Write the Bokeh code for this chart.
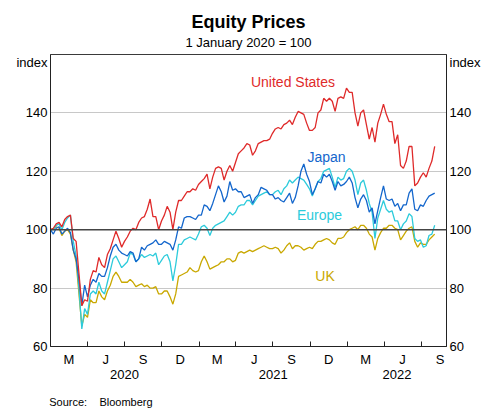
import pandas as pd
from bokeh.plotting import figure
from bokeh.models import (ColumnDataSource, Range1d, FixedTicker, LinearAxis,
                          DatetimeAxis, Span, Label, Title)
from bokeh.embed import file_html
from bokeh.resources import INLINE

# ---------------- data (weekly, index 1 Jan 2020 = 100) ----------------
dates = pd.date_range("2020-01-01", periods=136, freq="7D")

us = [100, 100.5, 102, 102.5, 101, 103.5, 104.5, 105, 97, 96,
      85, 74, 76, 75.5, 83, 86, 85.5, 90.5, 88, 87,
      91.5, 93.5, 96.5, 99.5, 97, 94, 96, 97.5, 99.5, 100.5,
      100, 102.5, 104, 104.5, 107, 110.5, 104.5, 104.5, 100, 103,
      105, 108, 106, 100, 106, 110, 110, 111.5, 113, 113,
      114, 113.5, 115.5, 116.5, 117.5, 119, 114, 118, 121, 121.5,
      121, 117, 120, 122, 120, 123, 126, 127, 128, 129.5,
      129, 125.5, 127, 129.5, 130, 130.5, 130.5, 131, 133, 134.5,
      135, 134.5, 136, 136.5, 137.5, 136, 138.5, 140.5, 140, 139.5,
      136.5, 134, 134, 135, 140, 141, 145, 144, 145, 144,
      140.5, 145, 145.5, 145, 148.5, 147, 147, 140, 135.5, 140,
      141, 136, 131, 135, 130, 136.5, 139.5, 143, 139.5, 137,
      137, 129.5, 132.5, 122, 121, 123.5, 128.5, 128.5, 115, 116,
      118, 119.5, 118, 121, 123.5, 128.5]

japan = [100, 98.5, 100.5, 101, 98.5, 99.5, 100.5, 99, 93, 90,
         83, 74, 81, 77, 81, 83, 82, 85, 84, 84,
         87, 91, 94, 95, 93, 92, 91.5, 91, 92.5, 92,
         89, 90, 94, 93, 94.5, 95, 95.5, 96.5, 95, 95,
         96, 95.5, 95, 93, 96.5, 101, 100.5, 104, 104.5, 104.5,
         104, 103.5, 105, 105, 108.5, 108, 106.5, 109, 112, 115,
         113, 109.5, 111.5, 116.5, 113.5, 114, 113, 113, 111, 111.5,
         112, 109, 111, 112, 114.5, 114, 113.5, 112, 112, 110.5,
         111, 110, 109.5, 111, 112.5, 109, 111, 115, 120, 122.5,
         119, 116.5, 112, 114, 116.5, 116, 119, 118, 119, 116.5,
         113.5, 116.5, 115, 115.5, 116.5, 118, 116, 111, 107.5, 110.5,
         112, 110, 106, 107.5, 102, 106.5, 111, 115, 110.5, 110,
         110.5, 108, 109, 106.5, 108.5, 108.5, 112.5, 114, 107, 106.5,
         108.5, 108, 110, 111.5, 112, 112.5]

europe = [100, 100, 101.5, 102, 100, 102.5, 104, 105, 96, 91,
          80, 66, 73, 71, 78, 79, 78, 82, 79, 78,
          82, 86, 90, 91, 89, 87, 88, 89, 92, 91.5,
          89, 90, 91.5, 90.5, 91, 91.5, 91, 92, 88, 89.5,
          91, 91.5, 89, 82.5, 88, 95, 95, 96.5, 97, 97.5,
          97, 96.5, 98.5, 101, 101.5, 100.5, 98, 100.5, 101.5, 102,
          102.5, 103, 104.5, 106, 105, 106, 108, 108.5, 108.5, 110,
          110, 108.5, 110, 111.5, 112, 112.5, 113, 112, 112, 113,
          113.5, 112, 114, 115, 117, 116, 117, 118, 117.5, 117,
          115.5, 114, 111.5, 114, 116.5, 117.5, 120, 120.5, 121, 118,
          114.5, 118, 117, 117.5, 120, 121, 120, 117, 112, 116,
          117, 113.5, 109, 106, 97, 104, 107, 110, 107, 106,
          106.5, 103, 103, 100, 102, 103, 105.5, 104.5, 97, 96,
          96.5, 94, 94.5, 98, 98.5, 101.5]

uk = [100, 100.3, 101, 100.5, 98, 99.5, 100, 98.5, 93, 89,
      78, 67, 71, 70, 76, 75, 75, 79, 77, 76,
      79, 81, 84, 85.5, 84, 82, 82, 82, 83, 82,
      80.5, 81, 81.5, 80.5, 81, 80, 80, 80.5, 78, 78,
      79, 79, 77, 74.5, 78, 84, 84.5, 85, 85.5, 87,
      86, 85.5, 86, 89, 91, 89, 86.5, 87, 87.5, 88,
      89, 89, 90, 90, 89, 89.5, 92, 92.5, 92, 92.5,
      93, 92.5, 93, 93.5, 94, 94.5, 94, 93.5, 93.5, 94,
      93.5, 92, 93, 94.5, 95.5, 93.5, 94.5, 94.5, 94, 93,
      93.5, 94, 93.5, 95, 96, 96, 96.5, 97, 96.5, 95.5,
      95, 97, 97, 97.5, 99, 100, 100.5, 101, 100, 101.5,
      101.5, 100.5, 98.5, 97.5, 93, 97, 99, 100.5, 100.5, 101.5,
      101.5, 100.5, 100, 96.5, 98, 99.5, 100.5, 101, 96, 94,
      95.5, 95, 95, 96.5, 97.5, 98.5]

# quarter boundaries (ticks), quarter centres (month labels), year centres
quarter_ticks = ["2020-04-01", "2020-07-01", "2020-10-01", "2021-01-01",
                 "2021-04-01", "2021-07-01", "2021-10-01", "2022-01-01",
                 "2022-04-01", "2022-07-01"]
quarter_mid = ["2020-02-15", "2020-05-16", "2020-08-16", "2020-11-15",
               "2021-02-14", "2021-05-16", "2021-08-16", "2021-11-15",
               "2022-02-14", "2022-05-16", "2022-08-16"]
quarter_labels = ["M", "J", "S", "D", "M", "J", "S", "D", "M", "J", "S"]
year_mid = ["2020-07-01", "2021-07-02", "2022-05-02"]
year_labels = ["2020", "2021", "2022"]
y_ticks = [60, 80, 100, 120, 140]
grid_ticks = [80, 120, 140]
unit_label = "index"
source_text = "Source:\u00a0\u00a0\u00a0\u00a0Bloomberg"

FONT = "Liberation Sans"
UNIT_POS = 157.3              # where the "index" unit label sits on the y axes
SOURCE_ANCHOR = "2020-05-04"  # centre of the source note along the x axis

def ms(s):
    return int(pd.Timestamp(s).value // 10**6)

p = figure(width=493, height=410, output_backend="svg", toolbar_location=None,
           x_axis_type=None, y_axis_location=None,
           x_range=Range1d(ms("2020-01-01"), ms("2022-09-01")),
           y_range=Range1d(60, 160),
           min_border_left=50, min_border_right=47,
           min_border_top=54, min_border_bottom=64)
p.background_fill_color = "white"
p.border_fill_color = "white"
p.outline_line_color = "#3a3a3a"
p.outline_line_width = 1
p.xgrid.visible = False

# titles (first added sits nearest the plot)
p.add_layout(Title(text="1 January 2020 = 100", align="center", text_font=FONT,
                   text_font_size="13px", text_font_style="normal",
                   text_color="black", standoff=10), "above")
p.add_layout(Title(text="Equity Prices", align="center", text_font=FONT,
                   text_font_size="18px", text_font_style="bold",
                   text_color="black", standoff=-8), "above")

# y axes (with the unit label as an extra tick label at the top)
for loc in ("left", "right"):
    ax = LinearAxis(ticker=FixedTicker(ticks=y_ticks + [UNIT_POS]))
    ax.major_label_overrides = {UNIT_POS: unit_label}
    ax.major_tick_in = 0
    ax.major_tick_out = 0
    ax.minor_tick_in = 0
    ax.minor_tick_out = 0
    ax.major_label_standoff = 3
    ax.major_label_text_font = FONT
    ax.major_label_text_font_size = "13px"
    ax.major_label_text_color = "black"
    ax.axis_line_color = "#222222"
    p.add_layout(ax, loc)

p.ygrid.ticker = FixedTicker(ticks=grid_ticks)
p.ygrid.grid_line_color = "#c8c8c8"
p.ygrid.grid_line_width = 1

def text_axis(ticks, labels, standoff, size="13px"):
    a = DatetimeAxis(ticker=FixedTicker(ticks=[ms(d) for d in ticks], minor_ticks=[]))
    a.major_label_overrides = {ms(d): t for d, t in zip(ticks, labels)}
    a.major_tick_line_color = None
    a.minor_tick_line_color = None
    a.axis_line_color = None
    a.major_label_standoff = standoff
    a.major_label_text_font = FONT
    a.major_label_text_font_size = size
    a.major_label_text_color = "black"
    return a

# x axis: month letters + quarter ticks
xa = DatetimeAxis(ticker=FixedTicker(ticks=[ms(d) for d in quarter_mid],
                                     minor_ticks=[ms(d) for d in quarter_ticks]))
xa.major_label_overrides = {ms(d): t for d, t in zip(quarter_mid, quarter_labels)}
xa.major_tick_line_color = None
xa.minor_tick_in = 5
xa.minor_tick_out = 0
xa.minor_tick_line_color = "#222222"
xa.axis_line_color = "#222222"
xa.major_label_standoff = -1
xa.major_label_text_font = FONT
xa.major_label_text_font_size = "13px"
xa.major_label_text_color = "black"
p.add_layout(xa, "below")

p.add_layout(text_axis(year_mid, year_labels, -6), "below")
p.add_layout(text_axis([SOURCE_ANCHOR], [source_text], 8, "11px"), "below")

p.add_layout(Span(location=100, dimension="width", line_color="#444444", line_width=1.5))

src = ColumnDataSource(dict(x=[ms(d) for d in dates], us=us, japan=japan,
                            europe=europe, uk=uk))
colors = {"uk": "#C9A800", "europe": "#2CCBDB", "japan": "#1366CC", "us": "#DF2A2A"}
for key in ("uk", "europe", "japan", "us"):
    p.line("x", key, source=src, line_color=colors[key], line_width=1.3)

# series labels; screen units are relative to the frame's bottom-left corner
def lab(text, xs, ys, size, color):
    p.add_layout(Label(x=xs - 50, y=346 - ys, x_units="screen", y_units="screen",
                       text=text, text_font=FONT, text_font_size=size,
                       text_color=color, text_align="center", text_baseline="middle"))

lab("United States", 292.5, 81.5, "14px", colors["us"])
lab("Japan", 326, 156.5, "14px", colors["japan"])
lab("Europe", 319, 214, "14px", colors["europe"])
lab("UK", 324.5, 275, "14px", colors["uk"])

open("out.html", "w").write(file_html(p, INLINE))
